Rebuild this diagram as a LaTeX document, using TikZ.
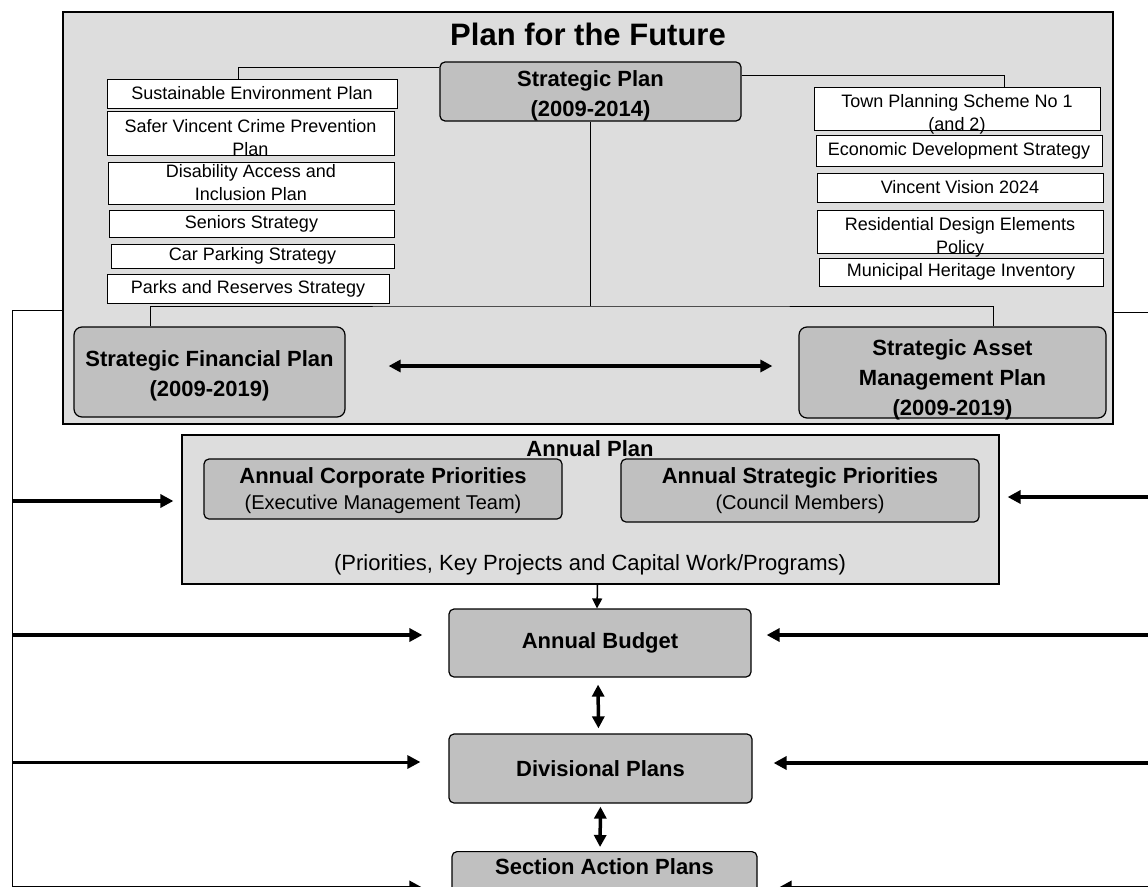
\documentclass[tikz,border=0pt]{standalone}
\usepackage{fontspec}
\setmainfont{Liberation Sans}
\usetikzlibrary{arrows.meta,positioning,calc}
\definecolor{framegray}{RGB}{221,221,221}
\definecolor{boxgray}{RGB}{192,192,192}

\begin{document}
\begin{tikzpicture}[x=1pt, y=-1pt,
    outerbox/.style={draw, fill=framegray, line width=1.2pt, inner sep=0pt},
    listbox/.style={draw, fill=white, line width=1pt, inner sep=0pt, align=center, font=\fontsize{18}{23}\selectfont},
    planbox/.style={draw, fill=boxgray, line width=1.2pt, rounded corners=5pt, inner sep=0pt, align=center, font=\bfseries\fontsize{22}{30}\selectfont},
    subtext/.style={font=\fontsize{22}{26}\selectfont},
    wire/.style={line width=1pt},
    feed/.style={line width=3.5pt, -{Triangle[length=13pt,width=13pt]}},
    twoway/.style={line width=3.5pt, {Triangle[length=12pt,width=12pt]}-{Triangle[length=12pt,width=12pt]}}]
  \useasboundingbox (0,0) rectangle (1148,886);
  \clip (0,0) rectangle (1148,886);

  % Plan for the Future
  \node[outerbox, minimum width=1050pt, minimum height=412pt] (PFF) at (588,218) {};
  \node[font=\bfseries\fontsize{31}{34}\selectfont] (PFFtitle) at (588,34) {Plan for the Future};
  \node[planbox, text height=54pt, text depth=5pt, minimum width=301pt, minimum height=59pt] (SP) at (590.5,91.5) {Strategic Plan\\(2009-2014)};

  % documents on the left
  \node[listbox, minimum width=290pt, minimum height=29pt] (SEP) at (252,93.5) {Sustainable Environment Plan};
  \node[listbox, text height=44pt, text depth=-3pt, minimum width=287pt, minimum height=41pt] (SVC) at (250.5,133.5) {Safer Vincent Crime Prevention\\Plan};
  \node[listbox, minimum width=286pt, minimum height=42pt] (DAI) at (251,183) {Disability Access and\\Inclusion Plan};
  \node[listbox, minimum width=285pt, minimum height=27pt] (SS) at (251.5,223.5) {Seniors Strategy};
  \node[listbox, minimum width=283pt, minimum height=24pt] (CPS) at (252.5,256) {Car Parking Strategy};
  \node[listbox, minimum width=282pt, minimum height=29pt] (PRS) at (248,288.5) {Parks and Reserves Strategy};

  % documents on the right
  \node[listbox, text height=43pt, text depth=0pt, minimum width=286pt, minimum height=43pt] (TPS) at (957,108.5) {Town Planning Scheme No 1\\(and 2)};
  \node[listbox, minimum width=286pt, minimum height=31pt] (EDS) at (959,150.5) {Economic Development Strategy};
  \node[listbox, minimum width=286pt, minimum height=29pt] (VV) at (960,187.5) {Vincent Vision 2024};
  \node[listbox, text height=43pt, text depth=0pt, minimum width=286pt, minimum height=43pt] (RDE) at (960,231.5) {Residential Design Elements\\Policy};
  \node[listbox, minimum width=284pt, minimum height=28pt] (MHI) at (961,272) {Municipal Heritage Inventory};

  % long term plans
  \node[planbox, rounded corners=8pt, text height=69pt, text depth=21pt, minimum width=271pt, minimum height=90pt] (SFP) at (209.5,372) {Strategic Financial Plan\\(2009-2019)};
  \node[planbox, rounded corners=8pt, text height=88pt, text depth=3pt, minimum width=307pt, minimum height=91pt] (SAMP) at (952.5,372.5) {Strategic Asset\\Management Plan\\(2009-2019)};

  % Annual Plan
  \node[outerbox, minimum width=817pt, minimum height=149pt] (AP) at (590.5,509.5) {};
  \node[font=\bfseries\fontsize{22}{26}\selectfont] (APtitle) at (590,449) {Annual Plan};
  \node[planbox, font=\bfseries\fontsize{22}{26}\selectfont, text height=50pt, text depth=10pt, minimum width=358pt, minimum height=60pt] (ACP) at (383,489) {Annual Corporate Priorities\\{\mdseries\fontsize{20}{25}\selectfont (Executive Management Team)}};
  \node[planbox, font=\bfseries\fontsize{22}{26}\selectfont, text height=50pt, text depth=13pt, minimum width=358pt, minimum height=63pt] (ASP) at (800,490.5) {Annual Strategic Priorities\\{\mdseries\fontsize{20}{25}\selectfont (Council Members)}};
  \node[subtext] (APnote) at (590,565) {(Priorities, Key Projects and Capital Work/Programs)};

  % annual cycle
  \node[planbox, minimum width=302pt, minimum height=68pt] (AB) at (600,643) {Annual Budget};
  \node[planbox, minimum width=303pt, minimum height=69pt] (DP) at (600.5,768.5) {Divisional Plans};
  \node[planbox, minimum width=305pt, minimum height=70pt, anchor=north,
        label={[anchor=north, inner sep=7pt, font=\bfseries\fontsize{22}{26}\selectfont]north:Section Action Plans}] (SAP) at (604.5,851) {};

  % Strategic Plan links
  \draw[wire] (SP.west |- 0,67) -| ([xshift=-14pt]SEP.north);
  \draw[wire] (SP.east |- 0,75) -| ([xshift=47pt]TPS.north);
  \coordinate (SPbus) at (590.5,306);
  \draw[wire] (SP.south) -- (SPbus);
  \draw[wire] ([xshift=-59.5pt]SFP.north) |- (SPbus) -| ([xshift=40.5pt]SAMP.north);
  \draw[twoway, shorten <=43pt, shorten >=26pt] (SFP.east |- 0,366) -- (SAMP.west |- 0,366);

  % feeds from the left
  \coordinate (L0) at (12,310);
  \coordinate (L1) at (12,501);
  \coordinate (L2) at (12,635);
  \coordinate (L3) at (12,762);
  \coordinate (L4) at (12,887.5);
  \draw[wire] (PFF.west |- L0) -- (L0) -- (L4);
  \draw[feed, shorten >=8pt] (L1) -- (AP.west |- L1);
  \draw[feed, shorten >=26pt] (L2) -- (AB.west |- L2);
  \draw[feed, line width=3pt, shorten >=28pt] (L3) -- (DP.west |- L3);
  \draw[feed, shorten >=29pt] (L4) -- (SAP.west |- L4);

  % feeds from the right
  \coordinate (R0) at (1148,312);
  \coordinate (R1) at (1148,497);
  \coordinate (R2) at (1148,635);
  \coordinate (R3) at (1148,763);
  \coordinate (R4) at (1148,887.5);
  \draw[wire] (PFF.east |- R0) -- (R0);
  \draw[feed, shorten >=8pt] (R1) -- (AP.east |- R1);
  \draw[feed, shorten >=15pt] (R2) -- (AB.east |- R2);
  \draw[feed, shorten >=21pt] (R3) -- (DP.east |- R3);
  \draw[feed, shorten >=21pt] (R4) -- (SAP.east |- R4);

  % down the annual cycle
  \draw[line width=1.5pt, -{Triangle[length=10pt,width=10pt]}] ([xshift=7pt]AP.south) -- ([xshift=-3pt]AB.north);
  \draw[twoway, shorten <=7pt, shorten >=5pt] ([xshift=-2pt]AB.south) -- ([xshift=-2pt]DP.north);
  \draw[twoway, shorten <=3pt, shorten >=4pt] (DP.south) -- ([xshift=-4.5pt]SAP.north);
\end{tikzpicture}
\end{document}
